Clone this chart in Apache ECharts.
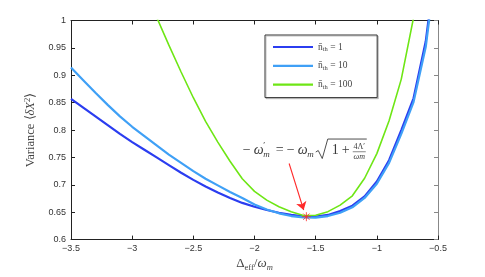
<!DOCTYPE html>
<html><head><meta charset="utf-8">
<script src="https://cdn.jsdelivr.net/npm/echarts@6/dist/echarts.min.js"></script>
<style>html,body{margin:0;padding:0;background:#fff}#c{width:485px;height:277px}</style>
</head><body><div id="c"></div>
<script>
// ---- data ----
const xBlue = [-3.5,-3.4,-3.3,-3.2,-3.1,-3.0,-2.9,-2.8,-2.7,-2.6,-2.5,-2.4,-2.3,-2.2,-2.1,-2.0,-1.9,-1.8,-1.7,-1.6,-1.5,-1.4,-1.3,-1.2,-1.1,-1.0,-0.9,-0.8,-0.7,-0.6,-0.55];
const yN1 = [0.857,0.841,0.825,0.809,0.793,0.778,0.764,0.750,0.736,0.722,0.709,0.697,0.686,0.676,0.667,0.660,0.654,0.649,0.645,0.6425,0.642,0.645,0.652,0.662,0.679,0.706,0.745,0.800,0.858,0.962,1.05];
const yN10 = [0.914,0.891,0.868,0.846,0.825,0.806,0.789,0.772,0.755,0.740,0.725,0.711,0.699,0.687,0.676,0.664,0.655,0.648,0.643,0.6405,0.640,0.643,0.649,0.659,0.676,0.702,0.740,0.793,0.851,0.952,1.04];
const xGreen = [-2.85,-2.8,-2.7,-2.6,-2.5,-2.4,-2.3,-2.2,-2.1,-2.0,-1.9,-1.8,-1.7,-1.6,-1.5,-1.4,-1.3,-1.2,-1.1,-1.0,-0.9,-0.8,-0.7,-0.65];
const yN100 = [1.03,1.006,0.955,0.906,0.859,0.816,0.778,0.743,0.711,0.688,0.672,0.660,0.651,0.644,0.6445,0.651,0.663,0.680,0.712,0.757,0.817,0.893,1.005,1.07];
const seriesNames = ['n1','n10','n100'];
const legendValues = ['1','10','100'];
const seriesColors = ['#2b3df0','#3fa0f6','#6ee615'];
const markerPoint = [-1.576, 0.6418];
const arrowStart = [-1.717, 0.739];
const arrowEnd = [-1.598, 0.654];
const annotationAnchor = [-2.096, 0.7626];
const xTicks = {min:-3.5, max:-0.5, interval:0.5};
const yTicks = {min:0.6, max:1, interval:0.05};

const SERIF = 'Liberation Serif';
const SANS = 'Liberation Sans';
const zip = (xs, ys) => xs.map((x, i) => [x, ys[i]]);
const minus = v => String(v).replace('-', '\u2212');

const chart = echarts.init(document.getElementById('c'), null, {renderer:'canvas'});
const axisCommon = {
  type:'value', splitLine:{show:false},
  axisTick:{inside:true, length:4, lineStyle:{color:'#222'}},
  axisLine:{lineStyle:{color:'#222', width:1}}
};
const option = {
  animation:false,
  backgroundColor:'#fff',
  grid:{left:71, right:47, top:20.5, bottom:30.7, containLabel:false},
  xAxis:[
    Object.assign({}, axisCommon, xTicks, {position:'bottom',
      axisLabel:{formatter:minus, fontFamily:SANS, fontSize:9, color:'#333', margin:4},
      name:'{a|\u0394}{s|eff}{a|/}{i|\u03C9}{si|m}', nameLocation:'middle', nameGap:16,
      nameTextStyle:{rich:{
        a:{fontFamily:SERIF, fontSize:13, lineHeight:16, color:'#444'},
        i:{fontFamily:SERIF, fontStyle:'italic', fontSize:13, lineHeight:16, color:'#444'},
        s:{fontFamily:SERIF, fontSize:8.5, lineHeight:8, verticalAlign:'bottom', color:'#444'},
        si:{fontFamily:SERIF, fontStyle:'italic', fontSize:8.5, lineHeight:8, verticalAlign:'bottom', color:'#444'}
      }}}),
    Object.assign({}, axisCommon, xTicks, {position:'top', axisLabel:{show:false}})
  ],
  yAxis:[
    Object.assign({}, axisCommon, yTicks, {position:'left',
      axisLabel:{fontFamily:SANS, fontSize:9, color:'#333', margin:5},
      name:'{a|Variance \u27E8}{i|\u03B4X}{p|2}{a|\u27E9}', nameLocation:'middle', nameGap:19,
      nameTextStyle:{rich:{
        a:{fontFamily:SERIF, fontSize:12.5, lineHeight:16, color:'#444'},
        i:{fontFamily:SERIF, fontStyle:'italic', fontSize:12.5, lineHeight:16, color:'#444'},
        p:{fontFamily:SERIF, fontSize:8.5, lineHeight:8, verticalAlign:'top', color:'#444'}
      }}}),
    Object.assign({}, axisCommon, yTicks, {position:'right', axisLabel:{show:false},
      axisLine:{lineStyle:{color:'#888'}}, axisTick:{inside:true, length:4, lineStyle:{color:'#888'}}})
  ],
  legend:{
    orient:'vertical', left:265, top:35,
    data:seriesNames.map(n => ({name:n, icon:'rect'})),
    itemWidth:40, itemHeight:2.2, itemGap:7.8,
    padding:[7,25,7,8],
    borderColor:'#333', borderWidth:1, borderRadius:0,
    backgroundColor:'#fff',
    shadowColor:'rgba(0,0,0,0.18)', shadowOffsetX:1.2, shadowOffsetY:1.2, shadowBlur:0,
    formatter: name => '{a|n\u0304}{s|th}{a| = ' + legendValues[seriesNames.indexOf(name)] + '}',
    textStyle:{rich:{
      a:{fontFamily:SERIF, fontSize:9.5, lineHeight:12, color:'#444'},
      s:{fontFamily:SERIF, fontSize:6.5, lineHeight:6, verticalAlign:'bottom', color:'#444'}
    }}
  },
  series:[
    {name:seriesNames[0], type:'line', data:zip(xBlue, yN1), symbol:'none', smooth:false,
     lineStyle:{color:seriesColors[0], width:2.2}, itemStyle:{color:seriesColors[0]}, z:2},
    {name:seriesNames[1], type:'line', data:zip(xBlue, yN10), symbol:'none', smooth:false,
     lineStyle:{color:seriesColors[1], width:2.2}, itemStyle:{color:seriesColors[1]}, z:3},
    {name:seriesNames[2], type:'line', data:zip(xGreen, yN100), symbol:'none', smooth:false,
     lineStyle:{color:seriesColors[2], width:1.6}, itemStyle:{color:seriesColors[2]}, z:4},
    {name:'marker', type:'scatter', data:[markerPoint], z:6,
     symbol:'path://M0,-1L0,1M-1,0L1,0M-0.707,-0.707L0.707,0.707M-0.707,0.707L0.707,-0.707',
     symbolSize:9, itemStyle:{color:'none', borderColor:'#ff2a2a', borderWidth:1},
     markLine:{silent:true, symbol:['none','arrow'], symbolSize:8, label:{show:false},
       lineStyle:{color:'#ff2a2a', width:1.1, type:'solid'},
       emphasis:{disabled:true},
       data:[[{coord:arrowStart}, {coord:arrowEnd}]]}}
  ]
};
chart.setOption(option);

// ---- annotation formula, anchored in data coordinates ----
const p = chart.convertToPixel({gridIndex:0}, annotationAnchor);
const C = '#3a3a3a';
const t = (x, y, text, size, italic, align) => ({type:'text', x, y, silent:true,
  style:{text, fill:C, font:(italic?'italic ':'') + size + 'px "' + SERIF + '"', align:align||'left', verticalAlign:'middle'}});
chart.setOption({graphic:[{type:'group', x:p[0], y:p[1], children:[
  t(0, 0, '\u2212', 14), t(11, 0, '\u03C9', 14, true), t(20.5, -5, '\u2032', 9), t(20.5, 4, 'm', 9, true),
  t(33, 0, '=', 14),
  t(44, 0, '\u2212', 14), t(55, 0, '\u03C9', 14, true), t(64.5, 4, 'm', 9, true),
  {type:'polyline', silent:true, shape:{points:[[73,1.5],[75.5,0],[79.5,8],[85,-11.5],[124,-11.5]]}, style:{stroke:C, lineWidth:0.9, fill:null}},
  t(89, 0, '1', 14), t(99, 0, '+', 14),
  t(116.5, -3.5, '4\u039B\u2032', 8, false, 'center'),
  {type:'line', silent:true, shape:{x1:110, y1:1.2, x2:123, y2:1.2}, style:{stroke:C, lineWidth:0.6}},
  t(116.5, 6, '\u03C9m', 8, true, 'center')
]}]});
</script></body></html>
